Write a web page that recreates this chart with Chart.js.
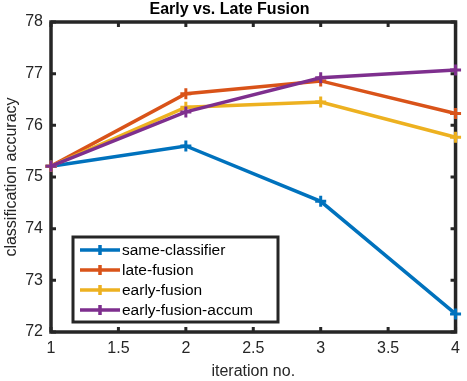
<!DOCTYPE html>
<html>
<head>
<meta charset="utf-8">
<title>Early vs. Late Fusion</title>
<script src="https://cdn.jsdelivr.net/npm/chart.js@4/dist/chart.umd.min.js"></script>
<style>
  body { margin: 0; background: #fff; }
  #wrap { width: 467px; height: 381px; }
</style>
</head>
<body>
<div id="wrap"><canvas id="chart" width="467" height="381"></canvas></div>
<script>
const iterations = [1, 2, 3, 4];
const sameClassifier = [75.21, 75.6, 74.53, 72.35];
const lateFusion = [75.21, 76.61, 76.86, 76.23];
const earlyFusion = [75.21, 76.35, 76.45, 75.77];
const earlyFusionAccum = [75.21, 76.26, 76.92, 77.07];

const seriesNames = ['same-classifier', 'late-fusion', 'early-fusion', 'early-fusion-accum'];
const seriesColors = ['#0072BD', '#D95319', '#EDB120', '#7E2F8E'];

const xTicks = [1, 1.5, 2, 2.5, 3, 3.5, 4];
const xTickLabels = ['1', '1.5', '2', '2.5', '3', '3.5', '4'];
const yTicks = [72, 73, 74, 75, 76, 77, 78];
const yTickLabels = ['72', '73', '74', '75', '76', '77', '78'];

const fontType = "'Liberation Sans', Arial, Helvetica, sans-serif";
const axisColor = '#262626';

// matlab style box with ticks pointing in, on all four sides
const boxPlugin = {
  id: 'box',
  beforeDatasetsDraw(chart) {
    const { ctx, chartArea: a } = chart;
    const xs = chart.scales.x, ys = chart.scales.y;
    const len = 5;
    ctx.save();
    ctx.strokeStyle = axisColor;
    ctx.lineWidth = 3;
    ctx.beginPath();
    xs.ticks.forEach((t) => {
      const px = xs.getPixelForValue(t.value);
      ctx.moveTo(px, a.bottom);
      ctx.lineTo(px, a.bottom - len);
      ctx.moveTo(px, a.top);
      ctx.lineTo(px, a.top + len);
    });
    ys.ticks.forEach((t) => {
      const py = ys.getPixelForValue(t.value);
      ctx.moveTo(a.left, py);
      ctx.lineTo(a.left + len, py);
      ctx.moveTo(a.right, py);
      ctx.lineTo(a.right - len, py);
    });
    ctx.stroke();
    ctx.lineWidth = 3.5;
    ctx.strokeRect(a.left, a.top, a.right - a.left, a.bottom - a.top);
    ctx.restore();
  }
};

// legend box inside the plot, lower left
const legendPlugin = {
  id: 'boxLegend',
  afterDatasetsDraw(chart) {
    const { ctx, chartArea: a } = chart;
    const left = a.left + 22, top = a.top + 215;
    const w = 205, h = 85;
    ctx.save();
    ctx.fillStyle = '#fff';
    ctx.fillRect(left, top, w, h);
    ctx.strokeStyle = axisColor;
    ctx.lineWidth = 3;
    ctx.strokeRect(left, top, w, h);
    ctx.font = '15.5px ' + fontType;
    ctx.textBaseline = 'middle';
    chart.data.datasets.forEach((ds, i) => {
      const y = top + 13 + i * 20;
      ctx.strokeStyle = ds.borderColor;
      ctx.lineWidth = 3.5;
      ctx.beginPath();
      ctx.moveTo(left + 7, y);
      ctx.lineTo(left + 47, y);
      ctx.moveTo(left + 27, y - 5);
      ctx.lineTo(left + 27, y + 5);
      ctx.stroke();
      ctx.fillStyle = '#000';
      ctx.fillText(ds.label, left + 49, y + 1);
    });
    ctx.restore();
  }
};

function makeSet(i, values) {
  return {
    label: seriesNames[i],
    data: iterations.map((x, k) => ({ x: x, y: values[k] })),
    borderColor: seriesColors[i],
    backgroundColor: seriesColors[i],
    borderWidth: 3.5,
    pointStyle: 'cross',
    pointRadius: 5.5,
    pointBorderWidth: 3,
    pointHoverRadius: 5.5,
    tension: 0,
    clip: false,
    order: 3 - i
  };
}

const cfg = {
  type: 'line',
  data: {
    datasets: [
      makeSet(0, sameClassifier),
      makeSet(1, lateFusion),
      makeSet(2, earlyFusion),
      makeSet(3, earlyFusionAccum)
    ]
  },
  options: {
    responsive: false,
    devicePixelRatio: 1,
    animation: false,
    layout: { padding: { top: 0, right: 8, bottom: 0, left: 0 } },
    plugins: {
      legend: { display: false },
      tooltip: { enabled: false },
      title: {
        display: true,
        text: 'Early vs. Late Fusion',
        color: '#000',
        font: { family: fontType, size: 16, weight: 'bold', lineHeight: 1.1 },
        padding: { top: 1, bottom: 3.4 }
      }
    },
    scales: {
      x: {
        type: 'linear',
        min: 1,
        max: 4,
        border: { display: false },
        grid: { display: false, drawTicks: false, tickLength: 0 },
        afterBuildTicks: (s) => { s.ticks = xTicks.map((v) => ({ value: v })); },
        afterFit: (s) => { s.height = 49; },
        ticks: {
          padding: 7,
          color: axisColor,
          maxRotation: 0,
          font: { family: fontType, size: 16 },
          callback: (v, idx) => xTickLabels[idx]
        },
        title: {
          display: true,
          text: 'iteration no.',
          color: axisColor,
          font: { family: fontType, size: 16 },
          padding: { top: 0, bottom: 0 }
        }
      },
      y: {
        type: 'linear',
        min: 72,
        max: 78,
        border: { display: false },
        grid: { display: false, drawTicks: false, tickLength: 0 },
        afterBuildTicks: (s) => { s.ticks = yTicks.map((v) => ({ value: v })); },
        afterFit: (s) => { s.width = 51; },
        ticks: {
          padding: 8,
          color: axisColor,
          font: { family: fontType, size: 16 },
          callback: (v, idx) => yTickLabels[idx]
        },
        title: {
          display: true,
          text: 'classification accuracy',
          color: axisColor,
          font: { family: fontType, size: 16 },
          padding: { top: 2, bottom: 0 }
        }
      }
    }
  },
  plugins: [boxPlugin, legendPlugin]
};

window.addEventListener('DOMContentLoaded', () => {
  new Chart(document.querySelector('#chart'), cfg);
});
</script>
</body>
</html>
